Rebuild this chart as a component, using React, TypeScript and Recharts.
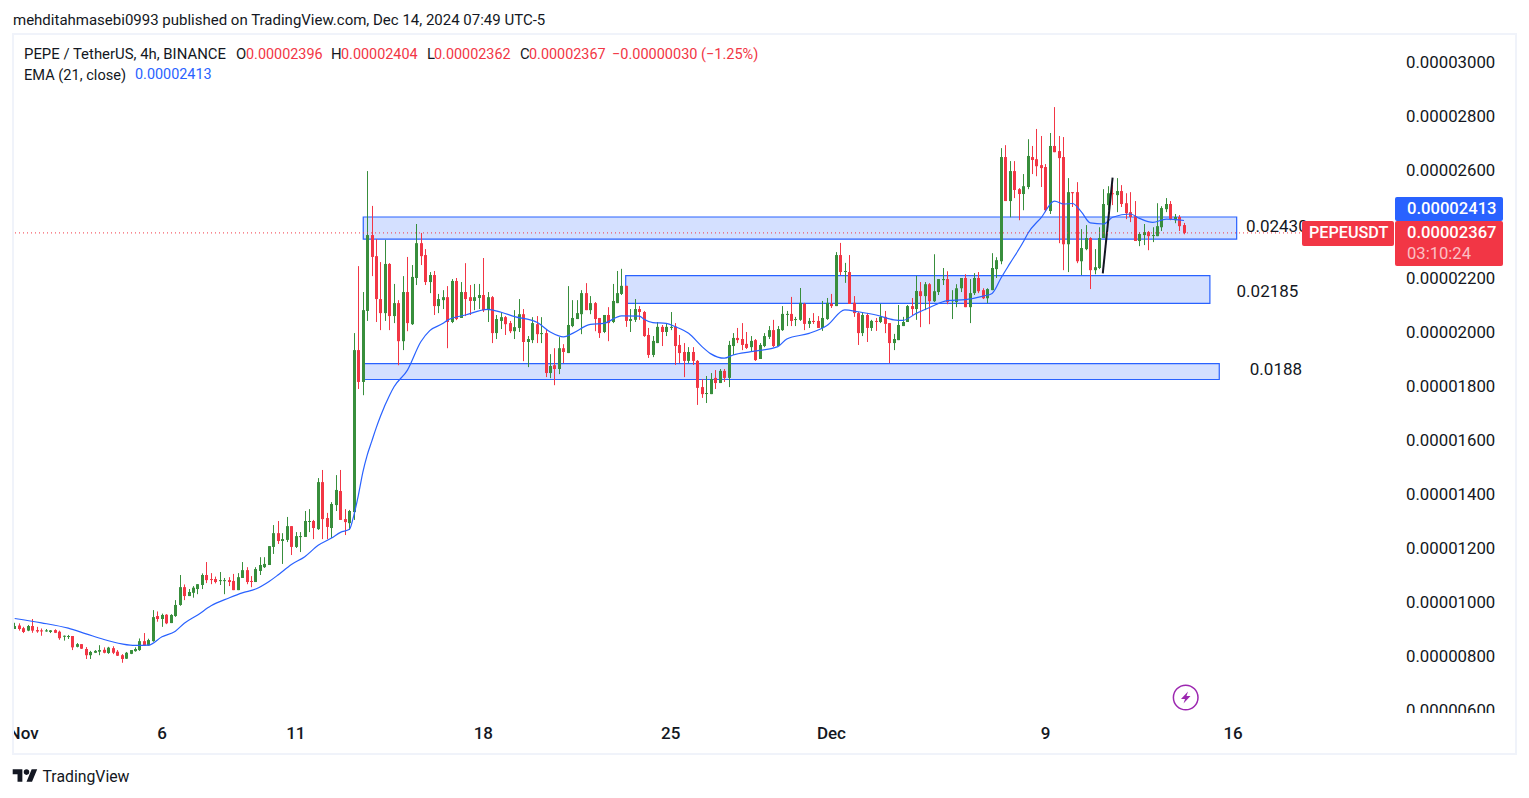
import React from "react";
import { ComposedChart, Bar, Line, XAxis, YAxis, ReferenceArea, ReferenceLine, ReferenceDot } from "recharts";

// All prices are in units of 0.00000001 USDT
const opens = [
900,913,903,894,911,896,895,891,889,896,
890,873,871,874,834,844,826,803,812,816,
823,811,829,816,803,790,808,818,822,855,
839,855,948,937,953,922,948,989,1055,1022,
1034,1048,1063,1100,1085,1085,1080,1080,1081,1078,
1044,1089,1118,1078,1074,1115,1129,1137,1204,1255,
1226,1230,1281,1204,1242,1241,1297,1300,1270,1444,
1311,1274,1359,1411,1307,1292,1333,1933,1815,2078,
2359,2281,2122,2070,2252,2059,2107,1966,2148,2029,
2200,2329,2285,2185,2211,2096,2118,2129,2037,2189,
2052,2148,2129,2115,2126,2137,2081,2129,1996,2041,
2055,2033,2003,2015,2066,1963,1970,2029,1994,1996,
1848,1877,1863,1940,1922,2022,2048,2066,2144,2081,
2107,2052,2000,2063,2037,2107,2141,2171,2041,2045,
2085,2074,1989,1915,1959,2019,2000,2015,2019,1952,
1926,1893,1926,1893,1796,1772,1770,1830,1811,1856,
1830,1948,1978,1974,1956,1944,1970,1900,1948,1982,
2007,1948,2007,2064,2067,2046,2045,2104,2030,2041,
2041,2015,2048,2104,2096,2285,2224,2222,2108,2070,
1996,2063,2015,2041,2037,2056,2033,1959,1970,2022,
2037,2096,2085,2151,2133,2177,2114,2148,2192,2196,
2114,2111,2162,2200,2092,2144,2200,2155,2125,2155,
2233,2262,2648,2485,2596,2529,2511,2537,2648,2640,
2618,2611,2448,2689,2670,2648,2325,2518,2518,2262,
2307,2348,2229,2237,2348,2470,2514,2507,2522,2477,
2444,2429,2337,2359,2370,2356,2355,2388,2455,2474,
2414,2426,2396];
const highs = [
923,921,908,915,937,908,902,900,896,899,
894,876,878,874,848,844,833,819,822,840,
832,834,836,822,807,815,822,832,865,885,
864,970,965,957,955,955,1007,1100,1065,1048,
1059,1066,1106,1148,1107,1094,1111,1089,1092,1104,
1107,1148,1129,1096,1129,1166,1166,1207,1285,1300,
1255,1315,1281,1259,1259,1337,1344,1304,1459,1489,
1330,1370,1470,1489,1344,1341,1996,2244,2148,2596,
2467,2344,2259,2341,2255,2178,2118,2207,2278,2248,
2400,2367,2307,2222,2226,2141,2155,2170,2196,2200,
2185,2255,2174,2178,2178,2274,2148,2133,2063,2074,
2059,2041,2081,2122,2085,1985,2055,2059,2055,2011,
1918,1940,1981,1955,2170,2118,2118,2155,2181,2133,
2111,2052,2063,2092,2178,2226,2234,2171,2085,2122,
2096,2078,2015,1985,2037,2026,2033,2074,2033,1989,
1959,1944,1944,1896,1826,1837,1848,1859,1863,1863,
1967,1996,2015,2033,2000,1985,1974,1959,1996,2022,
2045,2022,2096,2078,2130,2056,2163,2108,2052,2070,
2059,2115,2126,2141,2296,2330,2256,2285,2133,2074,
2074,2070,2045,2052,2104,2078,2033,1993,2100,2056,
2100,2126,2208,2185,2185,2181,2288,2196,2237,2225,
2155,2177,2200,2214,2196,2218,2222,2162,2162,2292,
2277,2681,2692,2633,2633,2533,2585,2714,2689,2752,
2726,2622,2737,2833,2726,2722,2570,2518,2555,2381,
2396,2351,2307,2388,2529,2540,2544,2570,2544,2514,
2518,2485,2370,2400,2374,2388,2477,2466,2496,2485,
2437,2433,2404];
const lows = [
900,894,885,892,886,886,875,890,885,885,
860,857,863,822,832,826,789,789,811,803,
810,808,807,800,775,789,807,816,819,837,
838,853,927,908,918,922,945,986,1007,1022,
1016,1029,1048,1070,1066,1069,1063,1029,1059,1044,
1044,1089,1066,1055,1074,1100,1126,1137,1178,1215,
1141,1222,1174,1200,1185,1241,1259,1233,1267,1233,
1233,1237,1337,1304,1248,1267,1304,1789,1766,2041,
2207,2037,2007,2041,2007,2033,1877,1933,2003,2026,
2174,2248,2174,2144,2063,2070,2085,1940,2033,2044,
2052,2059,2063,2081,2085,2074,2037,1959,1974,2011,
1989,1996,1974,2000,1892,1870,1959,1959,1959,1833,
1829,1803,1844,1885,1922,2018,2048,1992,2081,2066,
2003,1978,1996,1966,2033,2107,2137,2019,2000,2037,
2045,1982,1904,1907,1959,1948,1985,2007,1878,1885,
1833,1885,1878,1730,1756,1737,1770,1789,1811,1815,
1796,1915,1959,1933,1937,1926,1893,1900,1944,1974,
1944,1948,2004,2022,2022,2022,2041,2007,2015,2030,
2015,2004,2045,2089,2096,2211,2182,2104,2056,1952,
1985,1963,2004,2004,2033,1996,1885,1933,1970,2022,
2037,2063,2045,2018,2081,2029,2111,2137,2174,2103,
2048,2092,2148,2092,2033,2137,2144,2122,2107,2155,
2200,2251,2485,2425,2496,2414,2451,2529,2585,2577,
2537,2444,2437,2666,2329,2229,2222,2463,2255,2211,
2303,2159,2214,2233,2348,2451,2470,2444,2463,2418,
2407,2337,2318,2322,2303,2333,2355,2374,2444,2414,
2403,2374,2362];
const closes = [
911,900,889,911,894,891,891,895,895,886,
866,875,874,832,844,827,803,815,819,822,
812,831,812,801,789,812,822,826,855,838,
859,944,937,952,921,952,989,1055,1022,1037,
1053,1066,1100,1081,1083,1074,1081,1081,1074,1044,
1092,1118,1074,1075,1122,1137,1141,1207,1255,1226,
1233,1281,1204,1244,1244,1300,1300,1274,1444,1307,
1278,1363,1415,1304,1296,1337,1933,1815,2081,2359,
2278,2122,2070,2252,2059,2107,1966,2148,2033,2204,
2329,2281,2185,2211,2096,2122,2129,2037,2189,2048,
2148,2122,2115,2129,2137,2081,2129,1996,2048,2055,
2029,2003,2018,2066,1963,1974,2033,1992,1996,1848,
1874,1863,1940,1926,2026,2052,2070,2144,2081,2107,
2048,1996,2063,2033,2115,2144,2171,2041,2048,2085,
2074,1985,1915,1967,2019,2000,2019,2019,1948,1922,
1893,1926,1893,1793,1770,1774,1826,1811,1856,1830,
1952,1978,1970,1952,1941,1967,1896,1952,1985,2007,
1948,2011,2067,2067,2041,2048,2108,2030,2041,2037,
2015,2052,2108,2096,2285,2222,2226,2104,2070,1996,
2063,2015,2041,2038,2056,2030,1959,1974,2026,2037,
2096,2085,2152,2133,2177,2114,2151,2196,2196,2111,
2118,2162,2200,2092,2144,2200,2151,2125,2159,2237,
2266,2648,2485,2596,2526,2511,2540,2652,2637,2614,
2607,2451,2689,2666,2644,2325,2518,2514,2262,2311,
2348,2229,2240,2348,2474,2514,2511,2522,2474,2440,
2426,2337,2363,2370,2355,2359,2392,2459,2474,2418,
2426,2392,2367];

// EMA(21) readings taken at selected candles
const emaCandles = [0,6,12,16,20,24,27,30,33,36,38,41,44,48,51,54,57,59,62,65,68,71,73,75,76,77,78,79,80,81,82,84,85,88,91,93,96,97,101,106,109,112,117,120,123,125,129,132,136,140,141,143,146,148,151,154,156,159,161,165,171,173,178,182,186,189,193,197,199,202,205,209,213,217,219,221,223,226,227,230,233,235,237,239,241,244,246,250,252,255,258,262];
const emaValues = [939,923,903,882,861,845,839,840,871,892,921,952,986,1015,1034,1048,1076,1100,1139,1168,1210,1237,1258,1269,1322,1395,1480,1545,1595,1645,1690,1766,1797,1859,1964,2005,2032,2044,2063,2084,2073,2057,2036,2000,1982,1995,2028,2032,2060,2059,2047,2035,2032,2020,1995,1946,1919,1903,1915,1927,1946,1974,1995,2024,2082,2075,2063,2045,2043,2069,2091,2116,2120,2133,2143,2200,2254,2334,2365,2424,2485,2474,2476,2445,2404,2400,2425,2437,2421,2406,2418,2413];

// 0.00002400 sits behind the price badges in the reference, so it is not listed
const priceTicks = [600,800,1000,1200,1400,1600,1800,2000,2200,2600,2800,3000];
const dateTicks = [2,33,63,105,147,183,231,273];
const dateLabels = ["Nov","6","11","18","25","Dec","9","16"];

const zoneStarts = [78.1,136.9,78.1];
const zoneEnds = [273.8,267.8,269.9];
const zoneTops = [2426,2209,1883];
const zoneBottoms = [2344,2106,1824];
const zoneLabels = ["0.02430","0.02185","0.0188"];
const zoneLabelCandles = [282.8,280.7,282.6];
const zoneLabelPrices = [2391,2151,1862];

const trendCandles = [243.8,246];
const trendPrices = [2217,2572];
const lastClose = 2367;

const emaByCandle = new Map(emaCandles.map((c, k) => [c, emaValues[k]]));
const rows = opens.map((open, i) => ({
  i,
  open,
  close: closes[i],
  high: highs[i],
  low: lows[i],
  range: [lows[i], highs[i]],
  ema: emaByCandle.has(i) ? emaByCandle.get(i) : null,
}));

const UP = "#388e3c";
const DOWN = "#f23645";
const BLUE = "#2962ff";
const INK = "#131722";
const FONT = "Roboto, sans-serif";

function Candle(props: any) {
  const { x, y, width, height, payload } = props;
  if (!payload || height == null) return null;
  const perUnit = height / Math.max(1, payload.high - payload.low);
  const py = (v: number) => y + (payload.high - v) * perUnit;
  const color = payload.close >= payload.open ? UP : DOWN;
  const cx = Math.floor(x + width / 2);
  const top = py(Math.max(payload.open, payload.close));
  const bottom = py(Math.min(payload.open, payload.close));
  return (
    <g>
      <rect x={cx} y={y} width={1} height={Math.max(1, height)} fill={color} />
      <rect x={cx - 1} y={top} width={3} height={Math.max(1, bottom - top)} fill={color} />
    </g>
  );
}

const abs = (left: number, top: number, extra: React.CSSProperties = {}): React.CSSProperties => ({
  position: "absolute", left, top, whiteSpace: "nowrap", fontFamily: FONT, lineHeight: 1, ...extra,
});

function Legend() {
  const s = { fontSize: 14.9, color: INK };
  const r = { fontSize: 14.4, color: DOWN };
  return (
    <>
      <div style={abs(13, 13, { fontSize: 15, color: INK })}>mehditahmasebi0993 published on TradingView.com, Dec 14, 2024 07:49 UTC-5</div>
      <div style={abs(24, 47, s)}>PEPE / TetherUS, 4h, BINANCE</div>
      <div style={abs(236, 47, s)}>O</div><div style={abs(246, 48, r)}>0.00002396</div>
      <div style={abs(331, 47, s)}>H</div><div style={abs(341, 48, r)}>0.00002404</div>
      <div style={abs(427, 47, s)}>L</div><div style={abs(434, 48, r)}>0.00002362</div>
      <div style={abs(520, 47, s)}>C</div><div style={abs(529, 48, r)}>0.00002367</div>
      <div style={abs(612, 48, { ...r, fontSize: 14.5 })}>−0.00000030 (−1.25%)</div>
      <div style={abs(24, 68, { fontSize: 14.6, color: INK })}>EMA (21, close)</div>
      <div style={abs(135, 68, { fontSize: 14.4, color: BLUE })}>0.00002413</div>
    </>
  );
}

function Badges() {
  const box = (left: number, top: number, w: number, h: number, bg: string): React.CSSProperties => ({
    position: "absolute", left, top, width: w, height: h, background: bg, borderRadius: 2,
  });
  const t = { fontSize: 16.6, fontWeight: 500, color: "#fff" };
  return (
    <>
      <div style={box(1302, 221, 92, 25, DOWN)} />
      <div style={abs(1309, 225, { ...t, fontSize: 16.2 })}>PEPEUSDT</div>
      <div style={box(1395, 197, 108, 24, BLUE)} />
      <div style={abs(1407, 201, t)}>0.00002413</div>
      <div style={box(1395, 221, 108, 45, DOWN)} />
      <div style={abs(1407, 225, t)}>0.00002367</div>
      <div style={abs(1407, 246, { ...t, color: "rgba(255,255,255,0.7)", fontWeight: 400 })}>03:10:24</div>
    </>
  );
}

function Marks() {
  return (
    <svg width={1529} height={798} style={{ position: "absolute", left: 0, top: 0, pointerEvents: "none" }}>
      <circle cx={1185.7} cy={697.5} r={12.3} fill="#fff" stroke="#9c27b0" strokeWidth={1.5} />
      <path d="M1188 691.5 L1181 699 L1185 699 L1183.5 703.5 L1190.5 696 L1186.5 696 Z" fill="#9c27b0" />
      <g transform="translate(12.7 766.6) scale(0.69)" fill={INK}>
        <path d="M14 22H7V11H0V4h14v18zM28 22h-8l7.5-18h8L28 22z" />
        <circle cx={20} cy={8} r={4} />
      </g>
    </svg>
  );
}

export default function App() {
  return (
    <div style={{ position: "absolute", left: 0, top: 0, width: 1529, height: 798, background: "#fff", overflow: "hidden" }}>
      <div style={{ position: "absolute", left: 0, top: 0 }}>
        <ComposedChart width={1529} height={798} data={rows} margin={{ top: 35, right: 13, bottom: 45, left: 13 }}>
          <XAxis
            dataKey="i" type="number" domain={[-0.38, 309.5]} ticks={dateTicks} interval={0}
            tickFormatter={(v: number) => dateLabels[dateTicks.indexOf(v)]}
            axisLine={false} tickLine={false} height={39} tickMargin={7}
            tick={{ fill: INK, fontSize: 17, fontFamily: FONT, fontWeight: 500 }}
            allowDataOverflow
          />
          <YAxis
            orientation="right" type="number" domain={[585.2, 3100]} ticks={priceTicks} interval={0} width={120}
            tickFormatter={(v: number) => (v / 1e8).toFixed(8)}
            axisLine={false} tickLine={false} tickMargin={4}
            tick={{ fill: INK, fontSize: 16.8, fontFamily: FONT }}
            allowDataOverflow
          />
          {zoneStarts.map((x1, k) => (
            <ReferenceArea key={k} x1={x1} x2={zoneEnds[k]} y1={zoneBottoms[k]} y2={zoneTops[k]}
              fill={BLUE} fillOpacity={0.2} stroke={BLUE} strokeWidth={1.2} strokeOpacity={1} />
          ))}
          <Bar dataKey="range" barSize={3} shape={Candle} isAnimationActive={false} />
          <Line dataKey="ema" type="monotone" stroke={BLUE} strokeWidth={1.2} dot={false} connectNulls isAnimationActive={false} />
          <ReferenceLine segment={[{ x: trendCandles[0], y: trendPrices[0] }, { x: trendCandles[1], y: trendPrices[1] }]}
            stroke={INK} strokeWidth={2} />
          <ReferenceLine y={lastClose} stroke={DOWN} strokeDasharray="1 3" strokeWidth={1} />
          {zoneLabels.map((label, k) => (
            <ReferenceDot key={label} x={zoneLabelCandles[k]} y={zoneLabelPrices[k]} r={0}
              label={{ value: label, position: "center", fill: INK, fontSize: 17, fontFamily: FONT }} />
          ))}
        </ComposedChart>
      </div>
      <div style={{ position: "absolute", left: 1397, top: 713, width: 118, height: 14, background: "#fff" }} />
      <div style={{ position: "absolute", left: 0, top: 715, width: 12, height: 36, background: "#fff" }} />
      <div style={{ position: "absolute", left: 12, top: 33, width: 1501, height: 718, border: "2px solid #f0f3fa" }} />
      <Legend />
      <Badges />
      <Marks />
      <div style={abs(42.5, 769, { fontSize: 15.8, color: INK })}>TradingView</div>
    </div>
  );
}
